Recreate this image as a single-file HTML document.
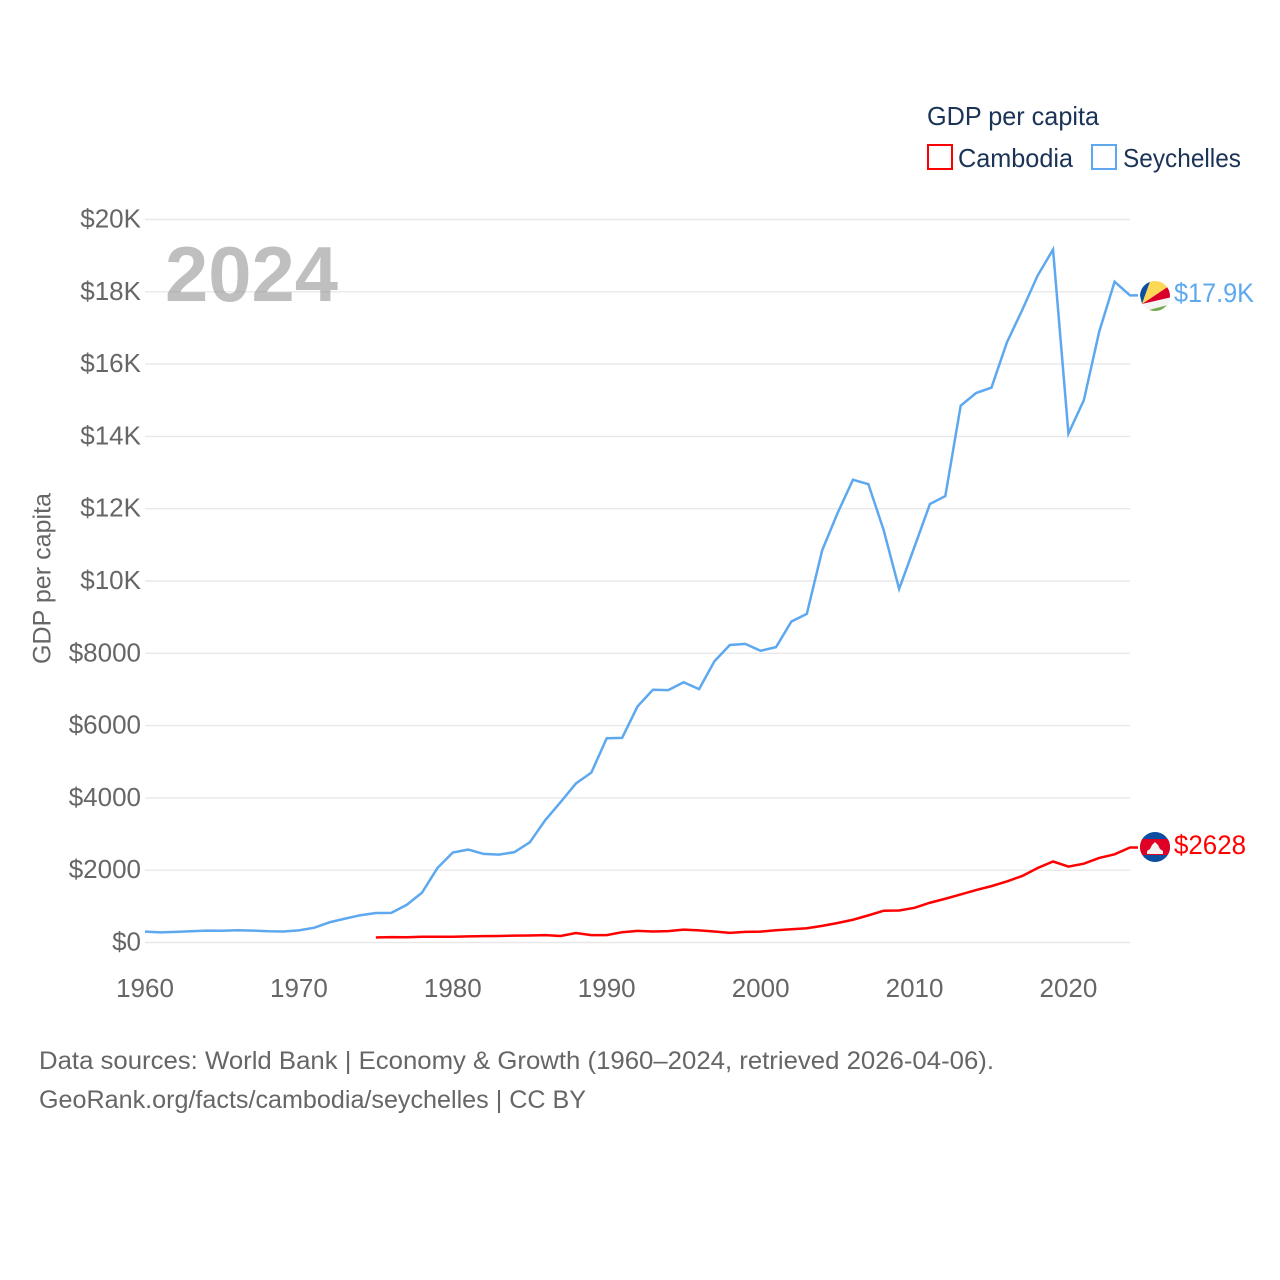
<!DOCTYPE html>
<html lang="en">
<head>
<meta charset="utf-8">
<title>GDP per capita: Cambodia and Seychelles</title>
<style>
html,body{margin:0;padding:0;background:#fff;width:1280px;height:1280px;overflow:hidden}
svg{display:block}
text{font-family:"Liberation Sans",sans-serif}
</style>
</head>
<body>
<svg id="chart" xmlns="http://www.w3.org/2000/svg" width="1280" height="1280" viewBox="0 0 1280 1280">
  <rect width="1280" height="1280" fill="#fff"/>
  <g id="grid"></g>
  <g id="yticks"></g>
  <g id="xticks"></g>
  <text x="165" y="301" font-size="78" font-weight="700" fill="#808080" fill-opacity="0.5" textLength="173" lengthAdjust="spacingAndGlyphs">2024</text>
  <text transform="translate(50.5,664) rotate(-90)" font-size="25" fill="#666" textLength="171" lengthAdjust="spacingAndGlyphs">GDP per capita</text>
  <g id="series"></g>

  <g>
    <text x="927" y="125" font-size="26" fill="#1a3357" textLength="172" lengthAdjust="spacingAndGlyphs">GDP per capita</text>
    <g>
      <rect x="928" y="145" width="24" height="24" fill="#fff" stroke="#ff0000" stroke-width="2"/>
      <text x="958" y="167" font-size="26" fill="#1a3357" textLength="115" lengthAdjust="spacingAndGlyphs">Cambodia</text>
    </g>
    <g>
      <rect x="1092" y="145" width="24" height="24" fill="#fff" stroke="#5da8ee" stroke-width="2"/>
      <text x="1123" y="167" font-size="26" fill="#1a3357" textLength="118" lengthAdjust="spacingAndGlyphs">Seychelles</text>
    </g>
  </g>

  <defs>
    <clipPath id="clip-sc"><circle cx="1155" cy="296" r="15"/></clipPath>
    <clipPath id="clip-kh"><circle cx="1155" cy="847" r="15"/></clipPath>
  </defs>
  <g clip-path="url(#clip-sc)">
    <rect x="1140" y="281" width="30" height="30" fill="#f4f4f4"/>
    <polygon points="1142,304 1136,279 1151,279" fill="#0b4ea2"/>
    <polygon points="1142,304 1151,279 1172,279 1172,284" fill="#fcd856"/>
    <polygon points="1142,304 1172,284 1172,297" fill="#d8002a"/>
    <polygon points="1145,311 1168,305 1172,314 1145,314" fill="#73a94f"/>
  </g>
  <g clip-path="url(#clip-kh)">
    <rect x="1140" y="832" width="30" height="30" fill="#0b4ea2"/>
    <rect x="1140" y="839" width="30" height="16" fill="#e00025"/>
    <polygon points="1155,842 1158,845 1160,849 1163,851 1163,854 1147,854 1147,851 1150,849 1152,845" fill="#f2f2f2"/>
  </g>
  <text id="label-sc" x="1174" y="302" font-size="27" fill="#5da8ee" textLength="80" lengthAdjust="spacingAndGlyphs">$17.9K</text>
  <text id="label-kh" x="1174" y="854" font-size="27" fill="#ff0000" textLength="72" lengthAdjust="spacingAndGlyphs">$2628</text>

  <g>
    <text x="39" y="1069" font-size="25" fill="#666" textLength="955" lengthAdjust="spacingAndGlyphs">Data sources: World Bank | Economy &amp; Growth (1960–2024, retrieved 2026-04-06).</text>
    <text x="39" y="1108" font-size="25" fill="#666" textLength="547" lengthAdjust="spacingAndGlyphs">GeoRank.org/facts/cambodia/seychelles | CC BY</text>
  </g>
</svg>
<script>
const yTickValues = [0, 2000, 4000, 6000, 8000, 10000, 12000, 14000, 16000, 18000, 20000];
const yTickLabels = ["$0", "$2000", "$4000", "$6000", "$8000", "$10K", "$12K", "$14K", "$16K", "$18K", "$20K"];
const xTickYears = [1960, 1970, 1980, 1990, 2000, 2010, 2020];
const seychellesStartYear = 1960;
const seychellesValues = [300,280,295,310,330,325,340,330,310,305,335,410,560,660,755,815,820,1040,1380,2060,2490,2570,2450,2430,2500,2770,3380,3880,4400,4700,5650,5660,6530,6990,6980,7200,7010,7780,8230,8260,8070,8170,8880,9090,10850,11880,12800,12680,11400,9780,10950,12130,12350,14850,15200,15350,16600,17500,18450,19170,14080,15000,16900,18280,17900];
const cambodiaStartYear = 1975;
const cambodiaValues = [140,150,145,160,160,160,170,175,180,190,195,205,180,262,205,205,285,320,305,315,355,335,305,265,295,300,340,365,395,460,540,630,750,880,885,960,1100,1210,1330,1450,1560,1690,1840,2060,2240,2100,2180,2340,2440,2628];

const NS = "http://www.w3.org/2000/svg";
const xScale = year => 145 + (year - 1960) * (1130 - 145) / 64;
const yScale = value => 942.5 - value * (942.5 - 219.5) / 20000;

const grid = document.getElementById("grid");
const yticks = document.getElementById("yticks");
const xticks = document.getElementById("xticks");
const series = document.getElementById("series");

yTickValues.forEach((v, i) => {
  const line = document.createElementNS(NS, "line");
  
  
  line.setAttribute("x1", 145);
  line.setAttribute("x2", 1130);
  line.setAttribute("y1", yScale(v));
  line.setAttribute("y2", yScale(v));
  line.setAttribute("stroke", "#e8e8e8");
  line.setAttribute("stroke-width", "1.4");
  grid.appendChild(line);

  const label = document.createElementNS(NS, "text");
  
  
  label.setAttribute("x", 141);
  label.setAttribute("y", yScale(v) + 8);
  label.setAttribute("text-anchor", "end");
  label.setAttribute("font-size", "26");
  label.setAttribute("fill", "#666");
  label.textContent = yTickLabels[i];
  yticks.appendChild(label);
});

xTickYears.forEach(year => {
  const label = document.createElementNS(NS, "text");
  
  
  label.setAttribute("x", xScale(year));
  label.setAttribute("y", 997);
  label.setAttribute("text-anchor", "middle");
  label.setAttribute("font-size", "26");
  label.setAttribute("fill", "#666");
  label.textContent = String(year);
  xticks.appendChild(label);
});

function pathFor(startYear, values) {
  const pts = values.map((v, i) => xScale(startYear + i).toFixed(2) + "," + yScale(v).toFixed(2));
  pts.push((xScale(startYear + values.length - 1) + 8).toFixed(2) + "," + yScale(values[values.length - 1]).toFixed(2));
  return pts.join(" ");
}

const seychellesLine = document.createElementNS(NS, "polyline");


seychellesLine.setAttribute("points", pathFor(seychellesStartYear, seychellesValues));
seychellesLine.setAttribute("fill", "none");
seychellesLine.setAttribute("stroke", "#5da8ee");
seychellesLine.setAttribute("stroke-width", "2.5");
series.appendChild(seychellesLine);

const cambodiaLine = document.createElementNS(NS, "polyline");


cambodiaLine.setAttribute("points", pathFor(cambodiaStartYear, cambodiaValues));
cambodiaLine.setAttribute("fill", "none");
cambodiaLine.setAttribute("stroke", "#ff0000");
cambodiaLine.setAttribute("stroke-width", "2.5");
series.appendChild(cambodiaLine);
</script>
</body>
</html>
